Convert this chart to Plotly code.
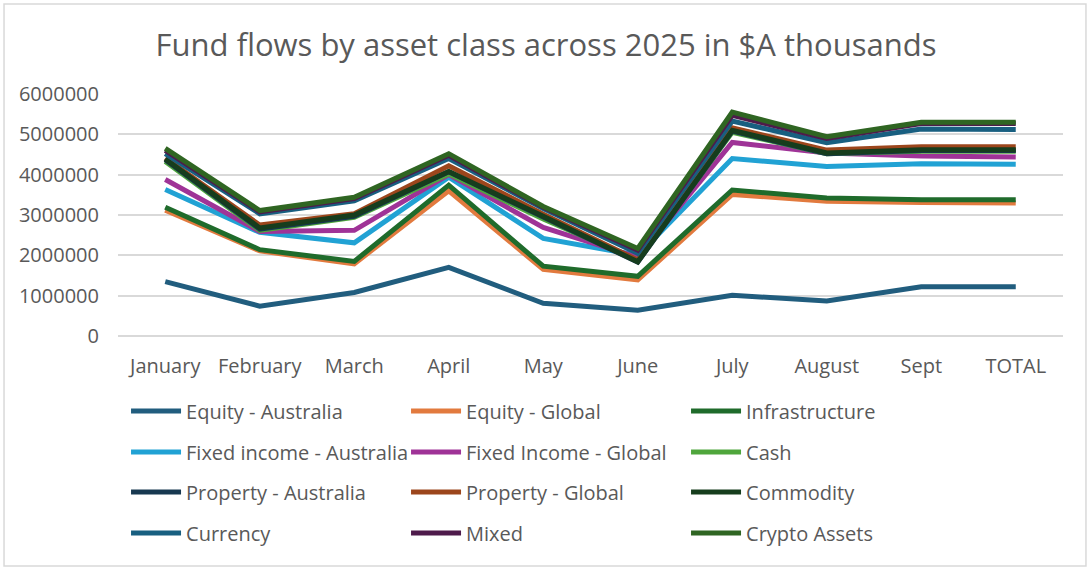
import plotly.graph_objects as go

months = ["January", "February", "March", "April", "May", "June", "July", "August", "Sept", "TOTAL"]

equity_australia = [1350000, 740000, 1080000, 1700000, 810000, 640000, 1010000, 870000, 1220000, 1220000]
equity_global = [3120000, 2110000, 1790000, 3600000, 1650000, 1390000, 3510000, 3340000, 3310000, 3300000]
infrastructure = [3190000, 2140000, 1850000, 3740000, 1730000, 1480000, 3620000, 3420000, 3380000, 3380000]
fixed_income_australia = [3630000, 2570000, 2310000, 3940000, 2420000, 2000000, 4400000, 4200000, 4270000, 4260000]
fixed_income_global = [3880000, 2590000, 2620000, 4000000, 2690000, 1950000, 4800000, 4540000, 4460000, 4440000]
cash = [4330000, 2620000, 2940000, 4020000, 2900000, 1880000, 5050000, 4520000, 4580000, 4580000]
property_australia = [4370000, 2650000, 2970000, 4070000, 2950000, 1830000, 5080000, 4520000, 4600000, 4600000]
property_global = [4410000, 2750000, 3030000, 4220000, 3020000, 1880000, 5160000, 4610000, 4690000, 4690000]
commodity = [4390000, 2680000, 3000000, 4080000, 2970000, 1840000, 5100000, 4540000, 4620000, 4620000]
currency = [4520000, 3030000, 3350000, 4400000, 3160000, 2050000, 5330000, 4790000, 5130000, 5120000]
mixed = [4600000, 3080000, 3410000, 4480000, 3190000, 2130000, 5470000, 4900000, 5270000, 5270000]
crypto_assets = [4650000, 3110000, 3440000, 4520000, 3210000, 2170000, 5550000, 4940000, 5300000, 5300000]

series = [
    ("Equity - Australia", equity_australia, "#215d7e", "legend"),
    ("Equity - Global", equity_global, "#e27a3e", "legend"),
    ("Infrastructure", infrastructure, "#1f6b2b", "legend"),
    ("Fixed income - Australia", fixed_income_australia, "#21a2d4", "legend2"),
    ("Fixed Income - Global", fixed_income_global, "#9f3397", "legend2"),
    ("Cash", cash, "#4fa63c", "legend2"),
    ("Property - Australia", property_australia, "#173850", "legend3"),
    ("Property - Global", property_global, "#9c461c", "legend3"),
    ("Commodity", commodity, "#163d1d", "legend3"),
    ("Currency", currency, "#185f80", "legend4"),
    ("Mixed", mixed, "#4e1b4b", "legend4"),
    ("Crypto Assets", crypto_assets, "#2f6522", "legend4"),
]

fig = go.Figure()
for name, vals, color, lg in series:
    fig.add_trace(go.Scatter(
        x=months, y=vals, name=name, mode="lines",
        line=dict(color=color, width=5),
        legend=lg,
    ))

font_family = "'Open Sans', Lato, sans-serif"
gray = "#595959"

def leg(y):
    return dict(
        orientation="h", x=0.0085, xanchor="left", y=y, yanchor="middle",
        entrywidth=215, entrywidthmode="pixels", itemwidth=50,
        font=dict(family=font_family, size=20, color=gray),
        bgcolor="rgba(0,0,0,0)", traceorder="normal",
    )

fig.update_layout(
    width=1092, height=571,
    margin=dict(l=118, r=29, t=94, b=235, autoexpand=False),
    paper_bgcolor="white", plot_bgcolor="white",
    title=dict(
        text="Fund flows by asset class across 2025 in $A thousands",
        x=0.5, xref="container", xanchor="center",
        y=0.921, yref="container", yanchor="middle",
        font=dict(family=font_family, size=31, color=gray),
    ),
    xaxis=dict(
        type="category", range=[-0.5, 9.5],
        showgrid=False, zeroline=False, showline=False,
        ticks="", ticklabelstandoff=16,
        tickfont=dict(family=font_family, size=20, color=gray),
    ),
    yaxis=dict(
        range=[0, 6000000], dtick=1000000, tickformat="d",
        showgrid=True, gridcolor="#d9d9d9", gridwidth=1.5,
        zeroline=True, zerolinecolor="#d9d9d9", zerolinewidth=1.5,
        showline=False, ticks="", ticklabelstandoff=18,
        tickfont=dict(family=font_family, size=20, color=gray),
    ),
    legend=leg(-0.3099),
    legend2=leg(-0.4793),
    legend3=leg(-0.6446),
    legend4=leg(-0.8140),
    showlegend=True,
    hovermode=False,
    shapes=[dict(
        type="rect", xref="paper", yref="paper",
        x0=-0.1206, x1=1.0243, y0=-0.950, y1=1.372,
        line=dict(color="#d9d9d9", width=1.5), fillcolor="rgba(0,0,0,0)",
        layer="below",
    )],
)

fig.write_html("out.html", config={"displayModeBar": False},
               post_script="document.body.style.margin='0';")
